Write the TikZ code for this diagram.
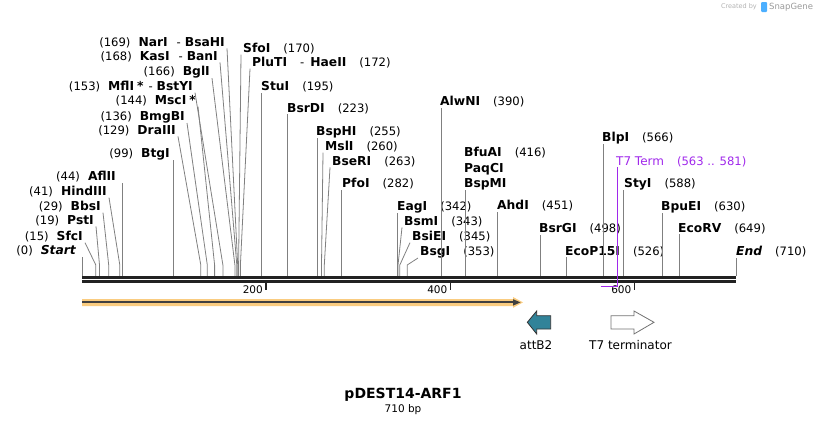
\documentclass[tikz,border=0pt]{standalone}
\usepackage{fontspec}
\setmainfont{DejaVu Sans}
\usepackage{xcolor}
\usetikzlibrary{arrows.meta}

\definecolor{leadgray}{RGB}{128,128,128}
\definecolor{bbgray}{RGB}{34,34,34}
\definecolor{t7purple}{RGB}{160,40,235}
\definecolor{halo}{RGB}{250,204,128}
\definecolor{attteal}{RGB}{49,131,153}

\newcommand{\enz}[1]{{\fontsize{12.3}{14}\selectfont\bfseries #1}}

\begin{document}
\begin{tikzpicture}[x=1pt,y=-1pt,
  lab/.style={font=\fontsize{11.6}{13}\selectfont, inner xsep=2pt, inner ysep=0pt},
  lsite/.style={lab, anchor=east},
  rsite/.style={lab, anchor=west},
  cut/.style={draw=leadgray, line width=0.8pt},
  backbone/.style={draw=bbgray, line width=2.6pt},
  tick/.style={draw=bbgray, line width=1.6pt},
  ticklab/.style={font=\fontsize{10.5}{12}\selectfont, anchor=east, inner sep=0pt},
  featlab/.style={font=\fontsize{12}{14}\selectfont, inner sep=0pt}]
\useasboundingbox (0,0) rectangle (818,426);

% sites on the backbone
\coordinate (s0) at (82,276);
\coordinate (s15) at (95.8,276);
\coordinate (s19) at (99.5,276);
\coordinate (s29) at (108.7,276);
\coordinate (s41) at (119.8,276);
\coordinate (s44) at (122.5,276);
\coordinate (s99) at (173.2,276);
\coordinate (s129) at (200.8,276);
\coordinate (s136) at (207.3,276);
\coordinate (s144) at (214.6,276);
\coordinate (s153) at (222.9,276);
\coordinate (s166) at (234.9,276);
\coordinate (s168) at (236.8,276);
\coordinate (s169) at (237.7,276);
\coordinate (s170) at (238.6,276);
\coordinate (s172) at (240.4,276);
\coordinate (s195) at (261.6,276);
\coordinate (s223) at (287.4,276);
\coordinate (s255) at (316.9,276);
\coordinate (s260) at (321.5,276);
\coordinate (s263) at (324.3,276);
\coordinate (s282) at (341.8,276);
\coordinate (s342) at (397.0,276);
\coordinate (s343) at (398.0,276);
\coordinate (s345) at (399.8,276);
\coordinate (s353) at (407.2,276);
\coordinate (s390) at (441.2,276);
\coordinate (s416) at (465.2,276);
\coordinate (s451) at (497.4,276);
\coordinate (s498) at (540.7,276);
\coordinate (s526) at (566.5,276);
\coordinate (s566) at (603.4,276);
\coordinate (s588) at (623.6,276);
\coordinate (s630) at (662.3,276);
\coordinate (s649) at (679.8,276);
\coordinate (s710) at (736,276);

% left labels
\node[lsite] (l169) at (227,43) {(169)\hspace{8pt}\enz{NarI}\hspace{9pt}-\hspace{4pt}\enz{BsaHI}};
\node[lsite] (l168) at (220,57) {(168)\hspace{8pt}\enz{KasI}\hspace{9pt}-\hspace{4pt}\enz{BanI}};
\node[lsite] (l166) at (212,72) {(166)\hspace{8pt}\enz{BglI}};
\node[lsite] (l153) at (195,87) {(153)\hspace{8pt}\enz{MflI\hspace{3pt}*}\hspace{5pt}-\hspace{4pt}\enz{BstYI}};
\node[lsite] (l144) at (198,101) {(144)\hspace{8pt}\enz{MscI\hspace{3pt}*}};
\node[lsite] (l136) at (187,117) {(136)\hspace{8pt}\enz{BmgBI}};
\node[lsite] (l129) at (178,131) {(129)\hspace{8pt}\enz{DraIII}};
\node[lsite] (l99) at (172,154) {(99)\hspace{8pt}\enz{BtgI}};
\node[lsite] (l44) at (118,177) {(44)\hspace{8pt}\enz{AflII}};
\node[lsite] (l41) at (109,192) {(41)\hspace{8pt}\enz{HindIII}};
\node[lsite] (l29) at (103,207) {(29)\hspace{8pt}\enz{BbsI}};
\node[lsite] (l19) at (96,221) {(19)\hspace{8pt}\enz{PstI}};
\node[lsite] (l15) at (85,237) {(15)\hspace{8pt}\enz{SfcI}};
\node[lsite] (l0) at (78,251) {(0)\hspace{8pt}\enz{\itshape Start}};

% right labels
\node[rsite] (r170) at (241,49) {\enz{SfoI}\hspace{13pt}(170)};
\node[rsite] (r172) at (250,63) {\enz{PluTI}\hspace{13pt}-\hspace{6pt}\enz{HaeII}\hspace{13pt}(172)};
\node[rsite] (r195) at (259,87) {\enz{StuI}\hspace{13pt}(195)};
\node[rsite] (r223) at (285,109) {\enz{BsrDI}\hspace{13pt}(223)};
\node[rsite] (r255) at (314,132) {\enz{BspHI}\hspace{13pt}(255)};
\node[rsite] (r260) at (323,147) {\enz{MslI}\hspace{13pt}(260)};
\node[rsite] (r263) at (330,162) {\enz{BseRI}\hspace{13pt}(263)};
\node[rsite] (r282) at (340,184) {\enz{PfoI}\hspace{13pt}(282)};
\node[rsite] (r342) at (395,207) {\enz{EagI}\hspace{13pt}(342)};
\node[rsite] (r343) at (402,222) {\enz{BsmI}\hspace{13pt}(343)};
\node[rsite] (r345) at (410,237) {\enz{BsiEI}\hspace{13pt}(345)};
\node[rsite] (r353) at (418,252) {\enz{BsgI}\hspace{13pt}(353)};
\node[rsite] (r390) at (438,102) {\enz{AlwNI}\hspace{13pt}(390)};
\node[rsite] (r416a) at (462,153) {\enz{BfuAI}\hspace{13pt}(416)};
\node[rsite] (r416b) at (462,169) {\enz{PaqCI}};
\node[rsite] (r416) at (462,184) {\enz{BspMI}};
\node[rsite] (r451) at (495,206) {\enz{AhdI}\hspace{13pt}(451)};
\node[rsite] (r498) at (537,229) {\enz{BsrGI}\hspace{13pt}(498)};
\node[rsite] (r526) at (563,252) {\enz{EcoP15I}\hspace{13pt}(526)};
\node[rsite] (r566) at (600,138) {\enz{BlpI}\hspace{13pt}(566)};
\node[rsite, text=t7purple] (t7lab) at (614,162) {{\fontsize{12}{14}\selectfont T7 Term}\hspace{13pt}(563 .. 581)};
\node[rsite] (r588) at (622,184) {\enz{StyI}\hspace{13pt}(588)};
\node[rsite] (r630) at (659,207) {\enz{BpuEI}\hspace{13pt}(630)};
\node[rsite] (r649) at (676,229) {\enz{EcoRV}\hspace{13pt}(649)};
\node[rsite] (r710) at (734,252) {\enz{\itshape End}\hspace{13pt}(710)};

% leaders, slanted ones bend 11 above the backbone
\draw[cut] (l169.south east) -- ([yshift=11pt]s169) -- (s169);
\draw[cut] (l168.south east) -- ([yshift=11pt]s168) -- (s168);
\draw[cut] (l166.south east) -- ([yshift=11pt]s166) -- (s166);
\draw[cut] (l153.south east) -- ([yshift=11pt]s153) -- (s153);
\draw[cut] (l144.south east) -- ([yshift=11pt]s144) -- (s144);
\draw[cut] (l136.south east) -- ([yshift=11pt]s136) -- (s136);
\draw[cut] (l129.south east) -- ([yshift=11pt]s129) -- (s129);
\draw[cut] (s99) -- (s99 |- l99.south);
\draw[cut] (s44) -- (s44 |- l44.south);
\draw[cut] (l41.south east) -- ([yshift=11pt]s41) -- (s41);
\draw[cut] (l29.south east) -- ([yshift=11pt]s29) -- (s29);
\draw[cut] (l19.south east) -- ([yshift=11pt]s19) -- (s19);
\draw[cut] (l15.south east) -- ([yshift=11pt]s15) -- (s15);
\draw[cut] (s0) -- (s0 |- l0.south);

\draw[cut] (r170.south west) -- ([yshift=11pt]s170) -- (s170);
\draw[cut] (r172.south west) -- ([yshift=11pt]s172) -- (s172);
\draw[cut] (s195) -- (s195 |- r195.south);
\draw[cut] (s223) -- (s223 |- r223.south);
\draw[cut] (s255) -- (s255 |- r255.south);
\draw[cut] (r260.south west) -- ([yshift=11pt]s260) -- (s260);
\draw[cut] (r263.south west) -- ([yshift=11pt]s263) -- (s263);
\draw[cut] (s282) -- (s282 |- r282.south);
\draw[cut] (s342) -- (s342 |- r342.south);
\draw[cut] (r343.south west) -- ([yshift=11pt]s343) -- (s343);
\draw[cut] (r345.south west) -- ([yshift=11pt]s345) -- (s345);
\draw[cut] (r353.south west) -- ([yshift=11pt]s353) -- (s353);
\draw[cut] (s390) -- (s390 |- r390.south);
\draw[cut] (s416) -- (s416 |- r416.south);
\draw[cut] (s451) -- (s451 |- r451.south);
\draw[cut] (s498) -- (s498 |- r498.south);
\draw[cut] (s526) -- (s526 |- r526.south);
\draw[cut] (s566) -- (s566 |- r566.south);
\draw[cut] (s588) -- (s588 |- r588.south);
\draw[cut] (s630) -- (s630 |- r630.south);
\draw[cut] (s649) -- (s649 |- r649.south);
\draw[cut] (s710) -- (s710 |- r710.south);

% backbone and ruler
\coordinate (bbstart) at (82,277.5);
\coordinate (bbend) at (736,277.5);
\draw[backbone] (bbstart) -- (bbend);
\draw[backbone] ([yshift=-4pt]bbstart) -- ([yshift=-4pt]bbend);
\coordinate (k200) at (266,282.5);
\coordinate (k400) at (450.5,282.5);
\coordinate (k600) at (634.5,282.5);
\draw[tick] (k200) -- ++(0,7);
\draw[tick] (k400) -- ++(0,7);
\draw[tick] (k600) -- ++(0,7);
\node[ticklab] (n200) at (263,289.5) {200};
\node[ticklab] (n400) at (447.5,289.5) {400};
\node[ticklab] (n600) at (631.5,289.5) {600};

% T7 Term feature mark
\coordinate (t7start) at (600.6,286.5);
\coordinate (t7end) at (617,286.5);
\draw[t7purple, line width=1.6pt] (t7start) -- (t7end);
\draw[t7purple, line width=1pt] (t7end) -- (t7end |- t7lab.south);

% orange feature arrow
\fill[halo] (82,299) -- (513,299) -- (513,297) -- (523,302.4) -- (513,307.8) -- (513,306) -- (82,306) -- cycle;
\draw[draw=black!75, line width=2pt] (82,302.4) -- (514,302.4);
\fill[black!75] (513,299.2) -- (520.5,302.4) -- (513,305.6) -- cycle;

% attB2 and T7 terminator
\filldraw[fill=attteal, draw=black!80, line width=0.8pt] (550.7,315.7) -- (536.7,315.7) -- (536.7,311) -- (527.3,322.3) -- (536.7,334) -- (536.7,329) -- (550.7,329) -- cycle;
\filldraw[fill=white, draw=black!55, line width=0.8pt] (611,315.7) -- (634,315.7) -- (634,311) -- (654,322.3) -- (634,334) -- (634,329) -- (611,329) -- cycle;
\node[featlab] (attlab) at (536,345) {attB2};
\node[featlab] (t7termlab) at (630.5,345) {T7 terminator};

% title
\node[font=\fontsize{14}{16}\selectfont\bfseries, inner sep=0pt] (title) at (403,395) {pDEST14-ARF1};
\node[font=\fontsize{10.5}{12}\selectfont, inner sep=0pt] (size) at (403,410) {710 bp};

% logo
\node[font=\fontsize{6.5}{8}\selectfont, text=black!30, anchor=east, inner sep=0pt] (created) at (757,7) {Created by};
\fill[blue!45!cyan!70, rounded corners=1pt] (761,2) rectangle (767,12);
\node[font=\fontsize{8.5}{10}\selectfont, text=black!40, anchor=west, inner sep=0pt] (snapgene) at (769,7) {SnapGene};
\end{tikzpicture}
\end{document}
